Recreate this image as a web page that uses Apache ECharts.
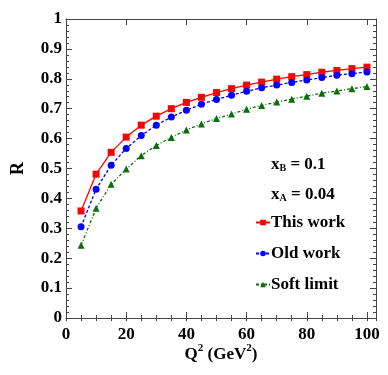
<!DOCTYPE html>
<html>
<head>
<meta charset="utf-8">
<script src="https://cdn.jsdelivr.net/npm/echarts@6/dist/echarts.min.js"></script>
<style>
  html, body { margin: 0; padding: 0; background: #fff; }
  #chart { width: 388px; height: 375px; }
</style>
</head>
<body>
<div id="chart"></div>
<script>
// Q^2 values (GeV^2)
const q2 = [5, 10, 15, 20, 25, 30, 35, 40, 45, 50, 55, 60, 65, 70, 75, 80, 85, 90, 95, 100]

// R
const thisWork = [0.358, 0.481, 0.554, 0.605, 0.645, 0.675, 0.700, 0.721, 0.738, 0.754,
  0.767, 0.779, 0.789, 0.799, 0.807, 0.814, 0.822, 0.828, 0.834, 0.839]
const oldWork = [0.305, 0.431, 0.511, 0.567, 0.610, 0.645, 0.672, 0.695, 0.715, 0.731,
  0.745, 0.758, 0.770, 0.779, 0.788, 0.796, 0.804, 0.812, 0.817, 0.823]
const softLimit = [0.243, 0.367, 0.447, 0.498, 0.543, 0.577, 0.604, 0.629, 0.649, 0.667,
  0.682, 0.698, 0.711, 0.722, 0.732, 0.742, 0.752, 0.759, 0.767, 0.774]

const font = 'Liberation Serif, Times New Roman, serif'
const axisColor = '#444'

const pairs = ys => q2.map((x, i) => [x, ys[i]])

// x axis runs a bit past 100, like the original frame
const xMax = 103

function frameAxis(pos, extra) {
  return Object.assign({
    type: 'value', position: pos, min: 0,
    axisLine: { show: true, onZero: false, lineStyle: { color: axisColor, width: 1 } },
    axisTick: { show: true, inside: true, length: 6, lineStyle: { color: axisColor } },
    splitLine: { show: false },
    axisLabel: { show: false }
  }, extra)
}

const subRich = {
  a: { fontFamily: font, fontWeight: 'bold', fontSize: 17, fill: '#000' },
  b: { fontFamily: font, fontWeight: 'bold', fontSize: 10, fill: '#000', verticalAlign: 'bottom', padding: [6, 0, 0, 0] }
}

const chart = echarts.init(document.getElementById('chart'))

chart.setOption({
  animation: false,
  textStyle: { fontFamily: font },
  grid: { left: 66, right: 12, top: 19, bottom: 57 },
  xAxis: [
    frameAxis('bottom', {
      max: xMax, interval: 20,
      name: '{a|Q}{s|2}{a| (GeV}{s|2}{a|)}',
      nameLocation: 'middle', nameGap: 25, nameMoveOverlap: false,
      nameTextStyle: {
        rich: {
          a: { fontFamily: font, fontWeight: 'bold', fontSize: 17, color: '#000' },
          s: { fontFamily: font, fontWeight: 'bold', fontSize: 11, color: '#000', verticalAlign: 'top', padding: [0, 0, 12, 0] }
        }
      },
      axisLabel: {
        show: true, showMaxLabel: false, margin: 8,
        fontFamily: font, fontWeight: 'bold', fontSize: 17, color: '#000'
      }
    }),
    frameAxis('top', { max: xMax, interval: 20 }),
    // minor ticks, every 5
    frameAxis('bottom', {
      max: xMax, interval: 5,
      axisLine: { show: false },
      axisTick: { show: true, inside: true, length: 3, lineStyle: { color: axisColor } }
    }),
    frameAxis('top', {
      max: xMax, interval: 5,
      axisLine: { show: false },
      axisTick: { show: true, inside: true, length: 3, lineStyle: { color: axisColor } }
    })
  ],
  yAxis: [
    frameAxis('left', {
      max: 1, interval: 0.1,
      name: 'R', nameLocation: 'middle', nameGap: 39,
      nameTextStyle: { fontFamily: font, fontWeight: 'bold', fontSize: 18, color: '#000' },
      minorTick: { show: true, splitNumber: 5, length: 3, lineStyle: { color: axisColor } },
      axisLabel: {
        show: true, margin: 4,
        fontFamily: font, fontWeight: 'bold', fontSize: 17, color: '#000',
        formatter: v => (v === 0 || v === 1) ? String(v) : v.toFixed(1)
      }
    }),
    frameAxis('right', {
      max: 1, interval: 0.1,
      minorTick: { show: true, splitNumber: 5, length: 3, lineStyle: { color: axisColor } }
    })
  ],
  legend: {
    orient: 'vertical', left: 250, top: 209,
    itemWidth: 14, itemHeight: 7, itemGap: 14,
    textStyle: { fontFamily: font, fontWeight: 'bold', fontSize: 17, color: '#000', padding: [0, 0, 0, -4] },
    data: ['This work', 'Old work', 'Soft limit']
  },
  graphic: [
    {
      type: 'text', left: 271, top: 156,
      style: { text: '{a|x}{b|B}{a| = 0.1}', rich: subRich }
    },
    {
      type: 'text', left: 271, top: 186,
      style: { text: '{a|x}{b|A}{a| = 0.04}', rich: subRich }
    }
  ],
  series: [
    {
      name: 'This work', type: 'line', data: pairs(thisWork),
      symbol: 'rect', symbolSize: 7,
      itemStyle: { color: '#ff0000' },
      lineStyle: { color: '#ff0000', width: 1.3, type: 'solid' }
    },
    {
      name: 'Old work', type: 'line', data: pairs(oldWork),
      symbol: 'circle', symbolSize: 7,
      itemStyle: { color: '#0000ff' },
      lineStyle: { color: '#0000ff', width: 1.3, type: [3, 2] }
    },
    {
      name: 'Soft limit', type: 'line', data: pairs(softLimit),
      symbol: 'triangle', symbolSize: 7,
      itemStyle: { color: '#0a6e0a' },
      lineStyle: { color: '#0a6e0a', width: 1.3, type: [3, 2, 1, 2] }
    }
  ]
})

window.addEventListener('resize', () => chart.resize())
</script>
</body>
</html>
